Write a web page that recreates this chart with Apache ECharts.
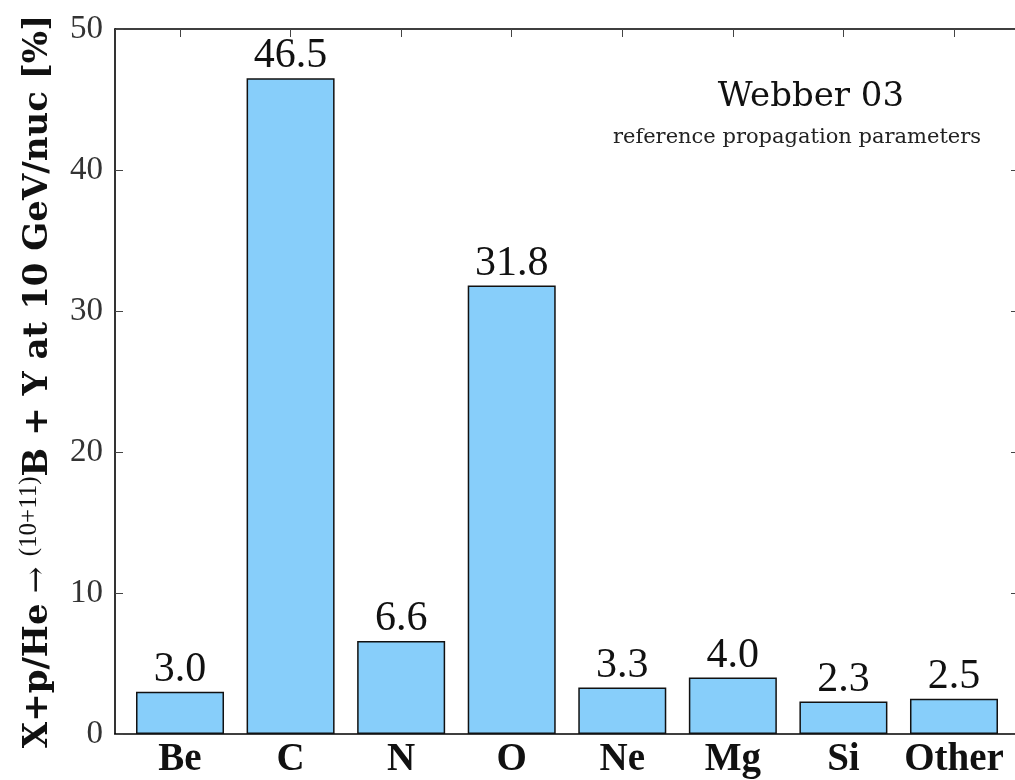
<!DOCTYPE html>
<html>
<head>
<meta charset="utf-8">
<script src="https://cdn.jsdelivr.net/npm/echarts@6/dist/echarts.min.js"></script>
<style>
  html, body { margin: 0; padding: 0; background: #fff; }
  #chart { width: 1015px; height: 780px; }
</style>
</head>
<body>
<div id="chart"></div>
<script>
// Secondary boron production by projectile element
const categories = ['Be', 'C', 'N', 'O', 'Ne', 'Mg', 'Si', 'Other'];
const values = [3.0, 46.5, 6.6, 31.8, 3.3, 4.0, 2.3, 2.5];
const yTicks = [0, 10, 20, 30, 40, 50];

const positions = categories.map((_, i) => i);
const serif = 'Liberation Serif';
const wide = 'DejaVu Serif';
const spine = { lineStyle: { color: '#000', width: 1.6 } };

const chart = echarts.init(document.getElementById('chart'), null, { renderer: 'canvas' });

chart.setOption({
  animation: false,
  backgroundColor: '#fff',
  grid: { left: 115, right: -4, top: 29, bottom: 46, containLabel: false, outerBoundsMode: 'none' },
  xAxis: [
    {
      type: 'value', position: 'bottom', min: -0.588, max: 7.588,
      axisLine: { show: true, onZero: false, ...spine },
      axisTick: { show: true, inside: true, length: 8, customValues: positions,
                  lineStyle: { color: '#444', width: 1 } },
      axisLabel: { show: true, customValues: positions, margin: 6,
                   formatter: v => categories[Math.round(v)] || '',
                   fontFamily: serif, fontWeight: 'bold', fontSize: 39, color: '#111' },
      splitLine: { show: false }
    },
    {
      type: 'value', position: 'top', min: -0.588, max: 7.588,
      axisLine: { show: true, onZero: false, ...spine },
      axisTick: { show: true, inside: true, length: 8, customValues: positions,
                  lineStyle: { color: '#444', width: 1 } },
      axisLabel: { show: false },
      splitLine: { show: false }
    }
  ],
  yAxis: [
    {
      type: 'value', position: 'left', min: 0, max: 50, interval: 10,
      axisLine: { show: true, onZero: false, ...spine },
      axisTick: { show: true, inside: true, length: 8, lineStyle: { color: '#444', width: 1 } },
      axisLabel: { show: true, margin: 12, fontFamily: serif, fontSize: 33, color: '#333',
                   formatter: v => yTicks.includes(v) ? String(v) : '' },
      splitLine: { show: false },
      name: '{b|X+p/He}{r| → }{s|(10+11)}{b|B + Y at 10 GeV/nuc [%]}',
      nameLocation: 'middle', nameRotate: 90, nameGap: 56,
      nameTextStyle: {
        rich: {
          b: { fontFamily: wide, fontWeight: 'bold', fontSize: 34, color: '#111', lineHeight: 42 },
          r: { fontFamily: wide, fontSize: 32, color: '#111', lineHeight: 42 },
          s: { fontFamily: serif, fontSize: 25, color: '#111', lineHeight: 42, verticalAlign: 'top', padding: [0, 0, 14, 0] }
        }
      }
    },
    {
      type: 'value', position: 'right', min: 0, max: 50, interval: 10,
      axisLine: { show: true, onZero: false, ...spine },
      axisTick: { show: true, inside: true, length: 8, lineStyle: { color: '#444', width: 1 } },
      axisLabel: { show: false },
      splitLine: { show: false }
    }
  ],
  series: [
    {
      type: 'bar',
      xAxisIndex: 0,
      yAxisIndex: 0,
      barWidth: 88,
      data: positions.map(i => [i, values[i]]),
      itemStyle: { color: '#87CEFA', borderColor: '#111', borderWidth: 1.5 },
      label: {
        show: true, position: 'top', distance: 1,
        formatter: p => values[p.dataIndex].toFixed(1),
        fontFamily: serif, fontSize: 42, color: '#111'
      },
      z: 1
    }
  ],
  graphic: [
    {
      type: 'text', x: 811, y: 80,
      style: { text: 'Webber 03', fontFamily: wide, fontSize: 34, fill: '#111', align: 'center', verticalAlign: 'top' }
    },
    {
      type: 'text', x: 797, y: 127,
      style: { text: 'reference propagation parameters', fontFamily: wide, fontSize: 21, fill: '#222', align: 'center', verticalAlign: 'top' }
    }
  ]
});
</script>
</body>
</html>
